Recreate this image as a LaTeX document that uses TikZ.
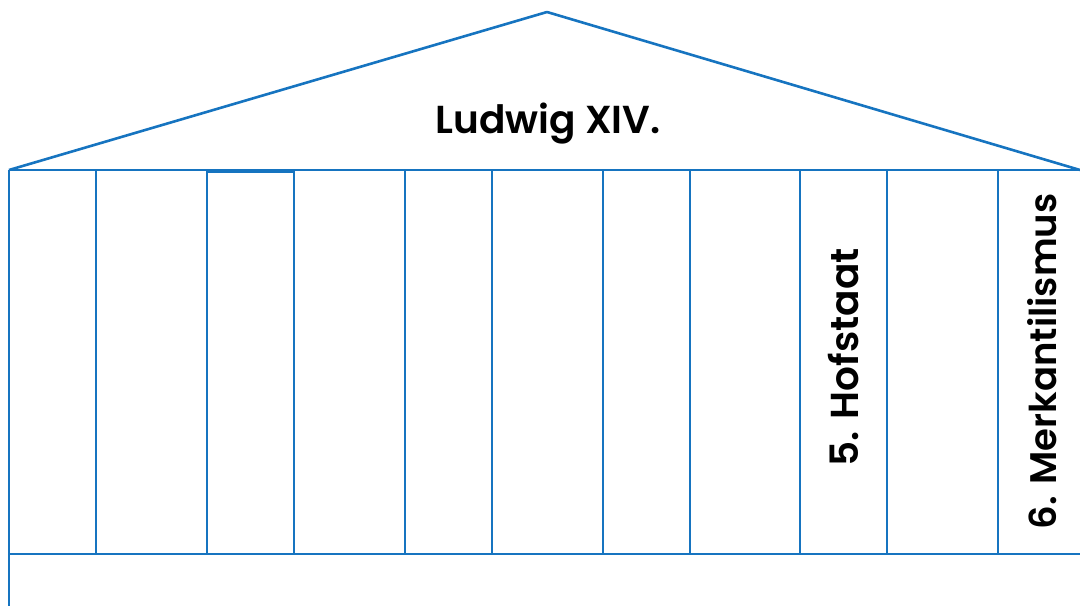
\documentclass[tikz,border=0pt]{standalone}
\usepackage{fontspec}
\setmainfont{Poppins SemiBold}
\definecolor{tblue}{RGB}{22,116,192}
\begin{document}
\begin{tikzpicture}[x=1pt,y=-1pt,
  ln/.style={draw=tblue,line width=2.6pt},
  lbl/.style={font=\fontsize{39}{44}\selectfont,text=black,inner sep=0pt}]
\useasboundingbox (0,0) rectangle (1080,606);
\coordinate (apex) at (547,12);
\coordinate (tl) at (9,170);
\coordinate (tr) at (1080,170);
\coordinate (bl) at (9,554);
\coordinate (br) at (1080,554);
\coordinate (ground) at (9,606);
\draw[ln,line join=round] (tl) -- (apex) -- (tr);
\draw[ln] (tl) -- (tr);
\draw[ln] (bl) -- (br);
\draw[ln] (tl) -- (ground);
\foreach \x in {96,405,492,603,690,800,887,998}
  \draw[ln] (\x,170) -- (\x,554);
\draw[ln] (207,172) rectangle (294,554);
\node[lbl,anchor=base] (roof) at (548,133) {Ludwig XIV.};
\node[lbl,rotate=90,anchor=base] (p5) at (858,357.5) {5. Hofstaat};
\node[lbl,font=\fontsize{37}{42}\selectfont,rotate=90,anchor=base] (p6) at (1056,361.5) {6. Merkantilismus};
\end{tikzpicture}
\end{document}
